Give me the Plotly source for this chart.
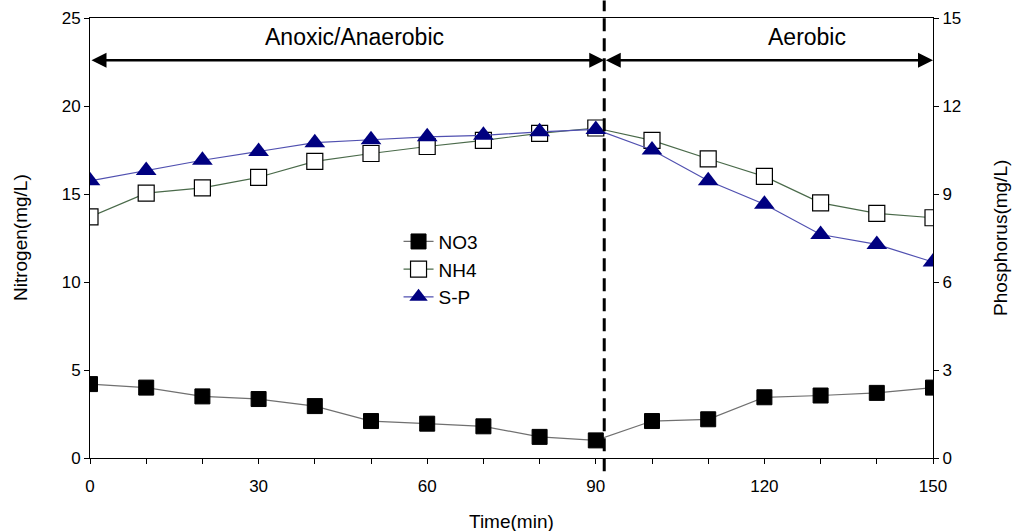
import plotly.graph_objects as go

time = [0, 10, 20, 30, 40, 50, 60, 70, 80, 90, 100, 110, 120, 130, 140, 150]
no3 = [4.2, 4.0, 3.5, 3.35, 2.95, 2.1, 1.95, 1.8, 1.2, 1.0, 2.1, 2.2, 3.45, 3.55, 3.7, 4.0]
nh4 = [13.7, 15.05, 15.35, 15.95, 16.85, 17.3, 17.7, 18.05, 18.45, 18.75, 18.05, 17.0, 16.0, 14.5, 13.9, 13.65]
sp = [9.45, 9.8, 10.15, 10.45, 10.75, 10.85, 10.95, 11.0, 11.12, 11.2, 10.5, 9.45, 8.65, 7.62, 7.28, 6.68]

x_tickvals = list(range(0, 151, 10))
x_ticktext = [str(v) if v % 30 == 0 else "" for v in x_tickvals]
phase_split = 91.5
arrow_y = 22.6

font_family = "Liberation Sans, Arial, sans-serif"

fig = go.Figure()
fig.add_trace(go.Scatter(
    x=time, y=no3, name="NO3", mode="lines+markers",
    line=dict(color="#707070", width=1.2),
    marker=dict(symbol="square", size=15, color="black", line=dict(color="black", width=1)),
))
fig.add_trace(go.Scatter(
    x=time, y=nh4, name="NH4", mode="lines+markers",
    line=dict(color="#4a6a4a", width=1.2),
    marker=dict(symbol="square", size=16, color="white", line=dict(color="black", width=1.2)),
))
fig.add_trace(go.Scatter(
    x=time, y=sp, name="S-P", mode="lines+markers", yaxis="y2",
    line=dict(color="#5050b0", width=1.2),
    marker=dict(symbol="triangle-up", size=18, color="#000080", line=dict(color="#000080", width=0)),
))

# dashed phase divider
fig.add_shape(type="line", x0=phase_split, x1=phase_split, y0=-0.03, y1=1.04,
              xref="x", yref="paper", line=dict(color="black", width=3, dash="13px,7px"))

# phase arrows
for x_from, x_to in [(0, phase_split), (phase_split, 150)]:
    fig.add_annotation(x=x_to, y=arrow_y, ax=x_from, ay=arrow_y, xref="x", yref="y",
                       axref="x", ayref="y", text="", showarrow=True,
                       arrowhead=2, arrowside="end+start", arrowsize=1.2, arrowwidth=2.5,
                       arrowcolor="black")

fig.add_annotation(x=47, y=23.9, xref="x", yref="y", text="Anoxic/Anaerobic", showarrow=False,
                   font=dict(size=23, color="black", family=font_family))
fig.add_annotation(x=127.5, y=23.9, xref="x", yref="y", text="Aerobic", showarrow=False,
                   font=dict(size=23, color="black", family=font_family))

# axis titles (positioned in paper coords derived from the pixel layout)
plot_w = 1017 - 90 - 84
plot_h = 531 - 18 - 73
fig.add_annotation(x=(20 - 90) / plot_w, y=0.5, xref="paper", yref="paper",
                   xanchor="center", yanchor="middle",
                   text="Nitrogen(mg/L)", textangle=-90, showarrow=False,
                   font=dict(size=19, color="black", family=font_family))
fig.add_annotation(x=(1000 - 90) / plot_w, y=0.5, xref="paper", yref="paper",
                   xanchor="center", yanchor="middle",
                   text="Phosphorus(mg/L)", textangle=-90, showarrow=False,
                   font=dict(size=19, color="black", family=font_family))
fig.add_annotation(x=0.5, y=(458 - 521) / plot_h, xref="paper", yref="paper",
                   xanchor="center", yanchor="middle",
                   text="Time(min)", showarrow=False,
                   font=dict(size=19, color="black", family=font_family))

fig.update_layout(
    width=1017, height=531,
    margin=dict(l=90, r=84, t=18, b=73),
    paper_bgcolor="white", plot_bgcolor="white",
    font=dict(family=font_family, size=17, color="black"),
    showlegend=True,
    legend=dict(x=0.366, y=0.535, xanchor="left", yanchor="top",
                bgcolor="rgba(0,0,0,0)", font=dict(size=19),
                itemwidth=30, tracegroupgap=0),
    xaxis=dict(range=[0, 150], tickvals=x_tickvals, ticktext=x_ticktext,
               ticks="outside", ticklen=5, tickcolor="black", ticklabelstandoff=8,
               showline=True, linecolor="black", linewidth=1, mirror=True,
               showgrid=False, zeroline=False, automargin=False),
    yaxis=dict(range=[0, 25], tickvals=[0, 5, 10, 15, 20, 25],
               ticks="outside", ticklen=5, tickcolor="black",
               showline=True, linecolor="black", linewidth=1,
               showgrid=False, zeroline=False, automargin=False),
    yaxis2=dict(range=[0, 15], tickvals=[0, 3, 6, 9, 12, 15], overlaying="y", side="right",
                ticks="outside", ticklen=5, tickcolor="black",
                showline=True, linecolor="black", linewidth=1,
                showgrid=False, zeroline=False, automargin=False),
)

fig.write_html("out.html")
